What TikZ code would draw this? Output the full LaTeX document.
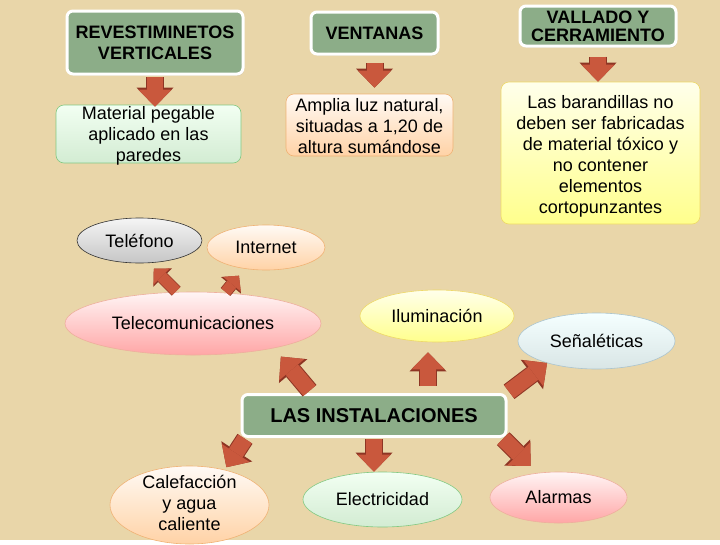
\documentclass[tikz,border=0pt]{standalone}
\usepackage{fontspec}
\setmainfont{Liberation Sans}
\usetikzlibrary{shapes.geometric,arrows.meta,shadows}

\definecolor{paper}{HTML}{E9D6A9}
\definecolor{headgreen}{HTML}{8CAD88}
\definecolor{arrowfill}{HTML}{C9583D}
\definecolor{arrowline}{HTML}{8E3524}

\begin{document}
\begin{tikzpicture}[x=1pt,y=-1pt,
font=\fontsize{18}{21}\selectfont,
headnode/.style={rectangle, rounded corners=6pt, draw=white, line width=3pt, fill=headgreen, font=\fontsize{18}{21}\selectfont\bfseries, align=center, inner sep=1pt, drop shadow={shadow xshift=1pt, shadow yshift=-1.5pt, opacity=0.3}},
textnode/.style={rectangle, rounded corners=8pt, line width=0.6pt, align=center, inner xsep=3pt},
ellnode/.style={ellipse, inner sep=0pt, line width=0.6pt, align=center},
greenfill/.style={draw=green!40!gray!70, top color=green!5, bottom color=green!40!gray!25},
peachfill/.style={draw=orange!60!brown!60, top color=orange!4, bottom color=orange!35},
yellowfill/.style={draw=yellow!60!brown!70, top color=yellow!8, bottom color=yellow!45},
grayfill/.style={draw=black!80, top color=gray!8, bottom color=gray!45},
pinkfill/.style={draw=red!40!brown!45, top color=red!4, bottom color=red!35},
bluefill/.style={draw=cyan!30!gray!60, top color=cyan!4, bottom color=cyan!20!gray!25},
bigarrow/.style={line width=16pt, draw=arrowfill, -{Triangle[length=17pt, width=33pt, line width=0pt]}, preaction={draw=arrowline, line width=18pt, -{Triangle[length=19pt, width=37pt, line width=0pt]}}},
smallarrow/.style={line width=11pt, draw=arrowfill, -{Triangle[length=11pt, width=23pt, line width=0pt]}, preaction={draw=arrowline, line width=12.5pt, -{Triangle[length=12.5pt, width=26pt, line width=0pt]}}}
]
\fill[paper] (0,0) rectangle (720,540);

\node[headnode, minimum width=176pt, minimum height=63pt] (rev) at (155,42.5) {REVESTIMINETOS\\VERTICALES};
\node[headnode, minimum width=127pt, minimum height=42pt] (vent) at (374.5,33) {VENTANAS};
\node[headnode, minimum width=156pt, minimum height=40pt, font=\fontsize{18}{18}\selectfont\bfseries] (vall) at (598,26) {VALLADO Y\\CERRAMIENTO};
\node[headnode, minimum width=264pt, minimum height=42pt, font=\fontsize{20}{24}\selectfont\bfseries] (inst) at (374,415.5) {LAS INSTALACIONES};

\node[textnode, greenfill, minimum width=185pt, text height=54pt, text depth=0pt, inner ysep=2pt] (mat) at (148.5,134) {Material pegable\\aplicado en las\\paredes};
\node[textnode, peachfill, minimum width=167pt, text height=56pt, text depth=0pt, inner ysep=3pt] (amp) at (369.5,125) {Amplia luz natural,\\situadas a 1,20 de\\altura sumándose};
\node[textnode, yellowfill, minimum width=199pt, minimum height=142pt, text height=124pt, text depth=4pt] (bar) at (600.5,153) {Las barandillas no\\deben ser fabricadas\\de material tóxico y\\no contener\\elementos\\cortopunzantes};

\node[ellnode, grayfill, minimum width=125pt, minimum height=45pt] (telefono) at (139.5,240.5) {Teléfono};
\node[ellnode, peachfill, minimum width=118pt, minimum height=45pt] (internet) at (266,247.5) {Internet};
\node[ellnode, pinkfill, minimum width=256pt, minimum height=63pt] (telecom) at (193,323.5) {Telecomunicaciones};
\node[ellnode, yellowfill, minimum width=154pt, minimum height=52pt] (ilum) at (437,316) {Iluminación};
\node[ellnode, bluefill, minimum width=157pt, minimum height=56pt] (senal) at (596.5,341) {Señaléticas};
\node[ellnode, peachfill, minimum width=159pt, minimum height=78pt, text height=50pt, text depth=0pt] (calef) at (189.5,505) {Calefacción\\y agua\\caliente};
\node[ellnode, greenfill, minimum width=159pt, minimum height=55pt] (elec) at (382.5,499.5) {Electricidad};
\node[ellnode, pinkfill, minimum width=137pt, minimum height=51pt] (alarm) at (558.5,497.5) {Alarmas};

\draw[bigarrow, shorten <=1.5pt, shorten >=-2pt] (rev.south) -- (rev.south |- mat.north);
\draw[bigarrow, shorten <=7pt, shorten >=6pt] (vent.south) -- (vent.south |- amp.north);
\draw[bigarrow, shorten <=9pt] (vall.south) -- (vall.south |- bar.north);

\draw[smallarrow, shorten <=1pt, shorten >=8pt] (telecom.117) -- (telefono.-69);
\draw[smallarrow, shorten <=1pt, shorten >=9pt] (telecom.44) -- (internet.225);

\draw[bigarrow, shorten <=3pt, shorten >=11pt] ([xshift=71pt]inst.north west) -- (telecom.-17);
\draw[bigarrow, shorten <=7pt, shorten >=10pt] ([xshift=-9pt]ilum.south |- inst.north) -- ([xshift=-9pt]ilum.south);
\draw[bigarrow, shorten <=2pt] (inst.north east) -- (senal.204);

\draw[bigarrow, shorten <=1pt, shorten >=3pt] ([xshift=5pt]inst.south west) -- (calef.45);
\draw[bigarrow, shorten <=1pt] (inst.south) -- (inst.south |- elec.north);
\draw[bigarrow, shorten <=1pt, shorten >=10pt] ([xshift=-5pt]inst.south east) -- (alarm.130);
\end{tikzpicture}
\end{document}
